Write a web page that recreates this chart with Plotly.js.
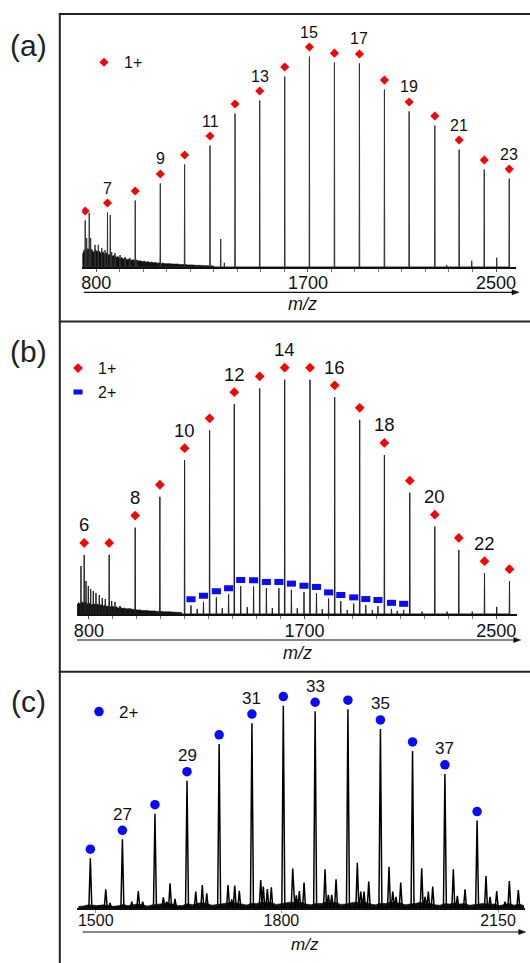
<!DOCTYPE html>
<html><head><meta charset="utf-8">
<script src="https://cdn.plot.ly/plotly-3.0.1.min.js"></script>
<style>html,body{margin:0;padding:0;background:#fff;}#chart{width:530px;height:963px;}</style>
</head><body><div id="chart"></div>
<script>
// ================= DATA =================
// ---- Panel (a): 1+ series ----
const nA   = [6,7,8,9,10,11,12,13,14,15,16,17,18,19,20,21,22,23];
const mzA  = [752.8,847.6,965.5,1072.2,1175.6,1283.6,1390.0,1495.0,1601.4,1706.4,1812.8,1919.1,2025.4,2130.5,2239.8,2343.2,2449.9,2556.3];
const intA = [22.1,25.9,31.6,39.7,48.7,57.7,72.9,79.1,90.5,100,97.1,96.7,84.3,73.9,67.2,55.8,46.3,42.0];
const labelsA = [7,9,11,13,15,17,19,21,23];
const minorMzA  = [759,770,776,794.5,808.5,823,837,859.5,865.5,879.5,901,922,943,972,1329,1344.5,2290,2396.8,2503];
const minorIntA = [13.8,25.7,13.8,10.5,10.5,9.0,8.0,24.7,7.1,6.7,5.7,4.8,4.3,3.3,13.3,2.0,1.0,3.0,4.4];
const noiseA_start = 740, noiseA_step = 8;
const noiseA = [5.5,8.2,6.6,8.8,7.9,8.5,6.9,8.3,7.2,7.6,6.4,7.3,5.9,6.8,5.6,6.2,5.1,5.6,4.6,5.0,4.2,4.5,3.8,4.1,3.5,3.8,3.2,3.5,3.0,3.3,2.8,3.0,2.5,2.8,2.3,2.6,2.1,2.4,2.0,2.2,1.8,2.0,1.7,1.9,1.6,1.7,1.5,1.6,1.4,1.5,1.3,1.4,1.2,1.3,1.1,1.2,1.0,1.1,0.9,1.0,0.8,0.9,0.8,0.8,0.7,0.7,0.6,0.7,0.6,0.6,0.5];

// ---- Panel (b): 1+ and 2+ series ----
const nB   = [6,7,8,9,10,11,12,13,14,15,16,17,18,19,20,21,22,23];
const mzB  = [780.4,884.7,993.2,1096.3,1199.4,1303.8,1406.8,1512.9,1617.2,1722.8,1825.9,1930.2,2033.3,2139.3,2243.7,2343.8,2451.1,2555.4];
const intB = [24.9,24.9,36.4,49.4,64.8,77.4,88.4,95.1,98.7,98.7,91.3,81.8,67.0,51.1,36.8,27.0,17.2,13.8];
const labelsB = [6,8,10,12,14,16,18,20,22];
const mz2B  = [1226.1,1278.3,1332.1,1383.1,1433.6,1487.4,1540.8,1593.0,1645.2,1697.8,1749.9,1800.4,1851.3,1905.2,1955.7,2006.6,2062.9,2113.8];
const int2B = [3.6,5.1,7.0,8.3,11.7,11.6,10.9,10.9,10.2,9.3,8.8,6.5,5.4,4.4,3.7,3.3,2.1,1.7];
const minorMzB  = [767,788,797.5,807.5,818.4,829.6,843.4,855.9,868.4,895.2,909,929.8,950.7,971.5,1252,1356.8,1461,1565.5,1669.8,1774,1878.5,1983,2087,2190,2295,2400,2502];
const minorIntB = [20.2,13.9,11.8,10.5,9.7,8.8,8.0,6.7,6.3,5.5,5.1,3.4,2.5,2.5,2.1,2.5,2.9,2.5,2.5,2.1,1.7,1.7,1.3,1.0,1.0,1.0,3.0];
const noiseB_start = 748, noiseB_step = 8;
const noiseB = [3.0,4.8,4.2,5.1,4.5,4.9,4.0,4.6,3.8,4.4,3.9,4.2,3.6,4.0,3.4,3.8,3.2,3.5,3.0,3.3,2.7,3.0,2.5,2.8,2.3,2.5,2.1,2.3,1.9,2.1,1.8,1.9,1.6,1.8,1.5,1.6,1.4,1.5,1.3,1.4,1.2,1.3,1.1,1.2,1.0,1.1,0.9,1.0,0.8,0.9,0.8,0.8,0.7,0.7,0.6,0.6];

// ---- Panel (c): 2+ series ----
const nC   = [26,27,28,29,30,31,32,33,34,35,36,37,38];
const mzC  = [1491.3,1543.1,1595.7,1647.5,1699.4,1752.4,1803.1,1854.5,1907.5,1960.0,2011.9,2064.2,2116.2];
const intC = [24.7,34.1,46.8,63.2,81.5,91.8,100.5,97.7,98.7,88.9,78.0,66.6,43.4];
const labelsC = [27,29,31,33,35,37];
const minorMzC  = [1505.8,1516.2,1523.1,1558.2,1568.8,1575.9,1609.2,1614.7,1620.1,1628.1,1661.6,1672.2,1679.4,1713.8,1719.7,1724.6,1732.0,1766.6,1770.8,1777.3,1783.7,1818.3,1824.1,1829.0,1836.6,1870.5,1875.8,1881.3,1888.3,1922.7,1928.2,1933.5,1941.1,1973.9,1979.9,1985.2,1992.8,2026.7,2032.1,2037.4,2044.5,2077.8,2084.3,2096.7,2130.6,2137.1,2147.9,2161.3,2168.3,2182.8];
const minorIntC = [1.3,9.3,2.5,3.1,8.4,3.1,5.3,3.1,12.3,4.5,8.1,11.4,7.3,11.4,4.3,11.1,8.6,13.9,10.6,9.4,10.3,19.6,6.3,8.4,12.6,19.2,6.5,6.5,14.3,22.5,8.1,8.1,13.1,20.5,8.1,5.6,12.6,19.7,5.6,8.1,10.6,19.2,6.0,9.3,15.9,5.6,8.4,3.1,13.4,8.9];
const noiseC_start = 1472, noiseC_step = 8;
const noiseC = [0.8,1.0,1.6,1.5,1.2,1.6,1.4,0.9,1.1,1.8,1.2,1.6,2.0,1.5,1.0,1.6,1.8,1.9,2.4,2.0,1.3,1.2,2.2,1.6,2.4,2.6,2.2,1.4,1.8,2.0,2.6,2.8,2.5,2.0,1.5,2.4,2.2,3.0,2.8,2.6,1.8,2.2,2.5,3.0,2.6,2.8,2.0,1.6,2.4,2.2,3.0,2.6,2.8,1.8,2.0,2.4,3.0,2.6,2.8,2.0,1.6,2.4,2.2,3.0,2.4,2.6,1.6,2.0,2.2,2.8,2.2,2.4,1.6,1.4,2.2,2.0,2.6,2.0,2.2,1.4,1.8,2.0,2.4,1.8,2.0,1.2,1.6,2.2,1.4,2.0,1.2];

// tick labels
const ticksAB = [800,1700,2500];
const ticksC  = [1500,1800,2150];

// ================= BUILD =================
const W = 530, H = 963;
const px = v => v / W;
const py = v => 1 - v / H;
const FONT = 'Liberation Sans, Arial, sans-serif';
const RED = '#ff0000', BLUE = '#0a0aff';

function spectrum(mzs, ints, hw) {
  const pk = mzs.map((m, i) => [m, ints[i]]).sort((a, b) => a[0] - b[0]);
  const x = [], y = [];
  pk.forEach(([m, h]) => { x.push(m - hw, m, m + hw); y.push(0, h, 0); });
  return {x, y};
}
function grid(start, step, vals) { return vals.map((_, i) => start + i * step); }

const offA = 4.5, offB = 5.06, off2B = 2.6, offC = 4.5;   // marker offset above peak top (data units)

const specA = spectrum(mzA.concat(minorMzA), intA.concat(minorIntA), 1.2);
const specB = spectrum(mzB.concat(mz2B, minorMzB), intB.concat(int2B, minorIntB), 1.2);
const specC = spectrum(mzC.concat(minorMzC), intC.concat(minorIntC), 2.4);

const noiseStyle = {mode:'lines', line:{color:'#111', width:0.6}, fill:'tozeroy', fillcolor:'#111', showlegend:false, hoverinfo:'skip'};
const traces = [
  Object.assign({x: grid(noiseA_start, noiseA_step, noiseA), y: noiseA, xaxis:'x', yaxis:'y'}, noiseStyle),
  {x: specA.x, y: specA.y, xaxis:'x', yaxis:'y', mode:'lines', line:{color:'#333', width:1}, showlegend:false, hoverinfo:'skip'},
  {x: mzA, y: intA.map(v => v + offA), xaxis:'x', yaxis:'y', mode:'markers', name:'1+', legend:'legend',
   marker:{symbol:'diamond', size:7, color:RED}},

  Object.assign({x: grid(noiseB_start, noiseB_step, noiseB), y: noiseB, xaxis:'x2', yaxis:'y2'}, noiseStyle),
  {x: specB.x, y: specB.y, xaxis:'x2', yaxis:'y2', mode:'lines', line:{color:'#222', width:1}, showlegend:false, hoverinfo:'skip'},
  {x: mzB, y: intB.map(v => v + offB), xaxis:'x2', yaxis:'y2', mode:'markers', name:'1+', legend:'legend2',
   marker:{symbol:'diamond', size:7.5, color:RED}},
  {x: mz2B, y: int2B.map(v => v + off2B), xaxis:'x2', yaxis:'y2', mode:'markers', name:'2+', legend:'legend2',
   marker:{symbol:'line-ew', size:6.5, color:BLUE, line:{color:BLUE, width:6}}},

  Object.assign({x: grid(noiseC_start, noiseC_step, noiseC), y: noiseC, xaxis:'x3', yaxis:'y3'}, noiseStyle),
  {x: specC.x, y: specC.y, xaxis:'x3', yaxis:'y3', mode:'lines', line:{color:'#000', width:1.5}, showlegend:false, hoverinfo:'skip'},
  {x: mzC, y: intC.map(v => v + offC), xaxis:'x3', yaxis:'y3', mode:'markers', name:'2+', legend:'legend3',
   marker:{symbol:'circle', size:9.5, color:BLUE}}
];

function xax(domain, range, anchor, tv, fs, tickcolor, minor, standoff) {
  const a = {domain, range, anchor, tickmode:'array', tickvals: tv, ticktext: tv.map(String),
    ticks:'outside', ticklen:3, tickwidth:1, tickcolor, showline:true, linecolor:'#111', linewidth:1.5,
    showgrid:false, zeroline:false, fixedrange:true, ticklabelstandoff: standoff,
    tickfont:{size:fs, color:'#111', family:FONT}};
  if (minor) a.minor = {ticks:'outside', ticklen:3, tickmode:'linear', tick0:0, dtick:100, tickcolor:'#777', showgrid:false};
  return a;
}
function yax(domain, anchor) {
  return {domain, range:[0,120], anchor, visible:false, fixedrange:true, showgrid:false, zeroline:false};
}

const annotations = [];
function addLabels(ns, mzs, ints, off, labels, xr, yr, shift, fs) {
  labels.forEach(n => {
    const i = ns.indexOf(n);
    annotations.push({x: mzs[i], y: ints[i] + off, xref: xr, yref: yr, yshift: shift, text: String(n),
      xanchor:'center', yanchor:'middle', showarrow:false, font:{size:fs, color:'#111', family:FONT}});
  });
}
addLabels(nA, mzA, intA, offA, labelsA, 'x', 'y', 15, 16);
addLabels(nB, mzB, intB, offB, labelsB, 'x2', 'y2', 18, 18.5);
addLabels(nC, mzC, intC, offC, labelsC, 'x3', 'y3', 16, 17);

[['(a)', 46], ['(b)', 351.7], ['(c)', 701.7]].forEach(([t, yy]) => annotations.push({
  x: px(28.7), y: py(yy), xref:'paper', yref:'paper', xanchor:'center', yanchor:'middle', text:t, showarrow:false,
  font:{size:30, color:'#222', family:FONT}}));
[[302, 304.3, 18], [297.5, 653.3, 18], [305.3, 944, 17]].forEach(([xx, yy, fs]) => annotations.push({
  x: px(xx), y: py(yy), xref:'paper', yref:'paper', xanchor:'center', yanchor:'middle', text:'<i>m/z</i>', showarrow:false,
  font:{size:fs, color:'#111', family:FONT}}));

const shapes = [];
const frame = {color:'#222', width:2};
shapes.push({type:'line', xref:'paper', yref:'paper', x0:px(59.8), x1:px(59.8), y0:py(13), y1:py(963), line:frame});
[14, 321.6, 671.7].forEach(yy => shapes.push({type:'line', xref:'paper', yref:'paper',
  x0:px(58.8), x1:px(530), y0:py(yy), y1:py(yy), line:frame}));
// axis arrows
[[83.8, 519, 292.3], [77, 520.7, 640], [82.8, 525.7, 932]].forEach(([x0, x1, yy]) => {
  shapes.push({type:'line', xref:'paper', yref:'paper', x0:px(x0), x1:px(x1 - 4), y0:py(yy), y1:py(yy),
    line:{color:'#111', width:1.2}});
  shapes.push({type:'path', xref:'paper', yref:'paper',
    path:`M ${px(x1)} ${py(yy)} L ${px(x1 - 7)} ${py(yy - 2.6)} L ${px(x1 - 7)} ${py(yy + 2.6)} Z`,
    fillcolor:'#111', line:{color:'#111', width:0.5}});
});

const legendBase = {xanchor:'left', yanchor:'middle', bgcolor:'rgba(0,0,0,0)', borderwidth:0, itemwidth:30, tracegroupgap:0};
const layout = {
  width:W, height:H, margin:{l:0, r:0, t:0, b:0}, paper_bgcolor:'#fff', plot_bgcolor:'rgba(0,0,0,0)',
  font:{family:FONT, color:'#111'}, showlegend:true,
  xaxis:  xax([px(82.2), px(516)], [740, 2585], 'y', ticksAB, 18, '#555', true, -4),
  yaxis:  yax([py(267), py(14.4)], 'x'),
  xaxis2: xax([px(77.1), px(517.3)], [750.8, 2588], 'y2', ticksAB, 18, '#555', true, -3),
  yaxis2: yax([py(614), py(329.2)], 'x2'),
  xaxis3: xax([px(77.1), px(525)], [1469.9, 2193.6], 'y3', ticksC, 16, '#6fa8dc', false, -6),
  yaxis3: yax([py(908), py(666.4)], 'x3'),
  legend:  Object.assign({}, legendBase, {x:px(84), y:py(62.3), font:{size:16, family:FONT, color:'#111'}}),
  legend2: Object.assign({}, legendBase, {x:px(58), y:py(380.2), font:{size:16, family:FONT, color:'#111'}}),
  legend3: Object.assign({}, legendBase, {x:px(79), y:py(712), font:{size:17, family:FONT, color:'#111'}}),
  annotations, shapes
};
Plotly.newPlot('chart', traces, layout, {staticPlot:true, displayModeBar:false});
</script></body></html>
